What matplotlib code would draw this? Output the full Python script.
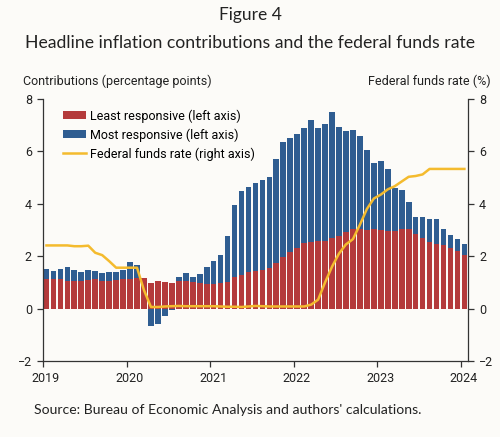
import numpy as np
import matplotlib
matplotlib.use("Agg")
import matplotlib.pyplot as plt
import matplotlib.transforms as mtransforms
from matplotlib.patches import Patch
from matplotlib.lines import Line2D

# monthly data, Jan 2019 .. Jan 2024
least = [1.11, 1.11, 1.11, 1.07, 1.04, 1.04, 1.08, 1.13, 1.07, 1.06, 1.08, 1.11,
         1.11, 1.15, 1.15, 0.96, 1.04, 1.02, 0.98, 1.04, 1.04, 1.02, 0.98, 0.92,
         0.94, 0.98, 1.01, 1.21, 1.30, 1.39, 1.43, 1.49, 1.55, 1.75, 1.96, 2.16,
         2.30, 2.52, 2.54, 2.56, 2.57, 2.68, 2.78, 2.92, 3.02, 3.02, 2.98, 3.02,
         2.98, 2.95, 2.95, 3.02, 3.02, 2.86, 2.70, 2.53, 2.48, 2.42, 2.32, 2.19,
         2.04]
most = [0.41, 0.34, 0.41, 0.51, 0.44, 0.37, 0.40, 0.32, 0.29, 0.34, 0.31, 0.38,
        0.66, 0.52, 0.00, -0.68, -0.59, -0.27, -0.06, 0.17, 0.31, 0.19, 0.33, 0.68,
        0.89, 1.08, 1.77, 2.75, 3.18, 3.25, 3.35, 3.40, 3.48, 3.96, 4.40, 4.35,
        4.37, 4.36, 4.65, 4.32, 4.48, 4.83, 4.14, 3.85, 3.78, 3.56, 3.09, 2.54,
        2.67, 2.38, 1.64, 1.52, 1.06, 0.63, 0.79, 0.87, 0.92, 0.60, 0.48, 0.47,
        0.43]
fedfunds = [2.41, 2.41, 2.41, 2.41, 2.38, 2.38, 2.40, 2.13, 2.04, 1.81, 1.56, 1.56,
            1.56, 1.56, 0.70, 0.06, 0.06, 0.08, 0.09, 0.10, 0.09, 0.09, 0.09, 0.09,
            0.09, 0.08, 0.07, 0.07, 0.06, 0.08, 0.10, 0.09, 0.08, 0.08, 0.08, 0.08,
            0.08, 0.08, 0.15, 0.34, 1.00, 1.60, 2.10, 2.45, 2.65, 3.20, 3.80, 4.20,
            4.35, 4.55, 4.67, 4.85, 5.03, 5.06, 5.12, 5.33, 5.33, 5.33, 5.33, 5.33,
            5.33]
years = [2019, 2020, 2021, 2022, 2023, 2024]

least = np.array(least)
most = np.array(most)
x = 2019 + (np.arange(len(least)) + 0.5) / 12.0

red = '#b43a3b'
blue = '#2f5d91'
gold = '#f4bb2e'
bg = '#fcfbf8'
axcol = '#333333'

fig = plt.figure(figsize=(5.0, 4.37), dpi=100, facecolor=bg)
ax = fig.add_axes([0.086, 0.174, 0.85, 0.5995])
ax.set_facecolor(bg)

w = 0.82 / 12
ax.bar(x, least, width=w, color=red, linewidth=0)
bottom = np.where(most > 0, least, 0)
ax.bar(x, most, width=w, bottom=bottom, color=blue, linewidth=0)

ax2 = ax.twinx()
ax2.plot(x, fedfunds, color=gold, lw=1.8, solid_joinstyle='round')

for a in (ax, ax2):
    a.set_ylim(-2, 8)
    a.set_yticks([-2, 0, 2, 4, 6, 8])
    a.spines['top'].set_visible(False)
    for s in a.spines.values():
        s.set_color(axcol)
        s.set_linewidth(0.9)
    a.tick_params(direction='out', length=4, width=0.9, color=axcol,
                  labelsize=9, labelcolor='#222222', pad=4)
ax.spines['right'].set_visible(False)
ax2.spines['left'].set_visible(False)
ax2.spines['bottom'].set_visible(False)

ax.set_xlim(2019, 2024.085)
ax.set_xticks(years)
ax.set_xticklabels([str(y) for y in years])
shift = mtransforms.ScaledTranslation(3 / 100, 0, fig.dpi_scale_trans)
for lab in ax.get_xticklabels():
    lab.set_transform(lab.get_transform() + shift)
for lab in ax.get_xticklabels() + ax.get_yticklabels() + ax2.get_yticklabels():
    lab.set_family('Roboto')

fig.text(0.5, 0.965, 'Figure 4', ha='center', va='center', fontsize=12.5,
         family='Lato', color='#222222')
fig.text(0.5, 0.902, 'Headline inflation contributions and the federal funds rate',
         ha='center', va='center', fontsize=12.7, family='Lato', color='#222222')
fig.text(0.046, 0.815, 'Contributions (percentage points)', ha='left', va='center',
         fontsize=9, family='Roboto', color='#222222')
fig.text(0.982, 0.815, 'Federal funds rate (%)', ha='right', va='center',
         fontsize=9, family='Roboto', color='#222222')
fig.text(0.068, 0.062, "Source: Bureau of Economic Analysis and authors' calculations.",
         ha='left', va='center', fontsize=10.1, family='Lato', color='#222222')

handles = [Patch(facecolor=red, edgecolor='none'),
           Patch(facecolor=blue, edgecolor='none'),
           Line2D([0], [0], color=gold, lw=1.8)]
labels = ['Least responsive (left axis)', 'Most responsive (left axis)',
          'Federal funds rate (right axis)']
leg = ax2.legend(handles, labels, loc='upper left', bbox_to_anchor=(0.03, 0.99),
                 frameon=False, handlelength=1.8, handleheight=0.6,
                 handletextpad=0.3, labelspacing=0.45, borderaxespad=0.2,
                 prop={'family': 'Roboto', 'size': 9})

fig.savefig('out.png', dpi=100, facecolor=bg)
